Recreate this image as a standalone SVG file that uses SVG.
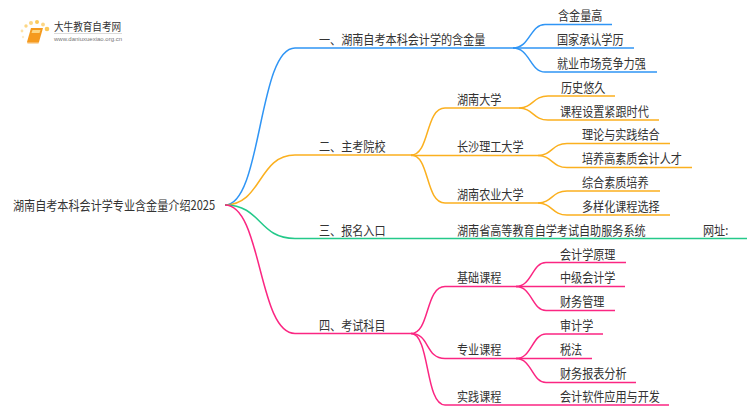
<svg xmlns="http://www.w3.org/2000/svg" width="750" height="410" viewBox="0 0 750 410">
<style>
text{font-family:"Noto Sans CJK SC","Liberation Sans",sans-serif;font-size:11.1px;fill:#333}
.c path{fill:none;stroke-width:1.5}
.b{stroke:#2f95f5}.o{stroke:#fbb01f}.g{stroke:#24c98a}.p{stroke:#fb2682}
</style>
<rect width="750" height="410" fill="#fff"/>
<g id="logo">
<circle cx="47" cy="29" r="2.3" fill="#fbc95a"/><circle cx="43" cy="24.500" r="1.9" fill="#fcd684"/><circle cx="37" cy="22" r="2" fill="#fbc95a"/><circle cx="31" cy="23" r="2" fill="#fcd684"/><circle cx="26" cy="26" r="1.7" fill="#fcd684"/><circle cx="22" cy="31" r="1.4" fill="#fde2a8"/><circle cx="23" cy="37" r="1.2" fill="#feeccb"/>
<path d="M31 28H43L39 42H27Z" fill="#f59a1e"/><path d="M27 42H39L38.500 43.500H27.500Z" fill="#f8b860"/><path d="M32.500 30H40.500L39.500 33H31.500Z" fill="#fcd684"/>
<text transform="translate(54 31) scale(1 1.15)" style="font-size:9.600px">大牛教育自考网</text>
<rect x="54" y="33" width="68" height="0.7" fill="#ccc"/>
<text x="54" y="41" style="font-size:6px;fill:#777;font-family:'Liberation Sans',sans-serif">www.daniuxuexiao.org.cn</text>
</g>
<g class="c" id="connectors">
<path class="b" d="M225 205C262 205 258 48 295 48H513"/>
<path class="b" d="M513 48C530 48 530 24.500 545 24.500H612"/>
<path class="b" d="M513 48H634"/>
<path class="b" d="M513 48C530 48 530 72 545 72H657"/>
<path class="o" d="M225 205C262 205 258 155 295 155H411"/>
<path class="o" d="M411 155C430 155 425 108 445 108H519"/>
<path class="o" d="M411 155.500H538"/>
<path class="o" d="M411 155C430 155 425 203 445 203H538"/>
<path class="o" d="M519 108C533 108 533 96 548 96H615"/>
<path class="o" d="M519 108C533 108 533 120 548 120H659"/>
<path class="o" d="M538 155.500C552 155.500 552 143.500 567 143.500H670"/>
<path class="o" d="M538 155.500C552 155.500 552 167.500 567 167.500H692"/>
<path class="o" d="M538 203C552 203 552 191 567 191H660"/>
<path class="o" d="M538 203C552 203 552 215 567 215H670"/>
<path class="g" d="M225 205C262 205 258 238.500 295 238.500H747"/>
<path class="p" d="M225 205C262 205 258 333.500 295 333.500H411"/>
<path class="p" d="M411 333.500C430 333.500 425 286.500 445 286.500H516"/>
<path class="p" d="M411 333.500C430 333.500 425 358.500 445 358.500H516"/>
<path class="p" d="M411 333.500C430 333.500 425 405 445 405H669"/>
<path class="p" d="M516 286.500C532 286.500 532 262.500 546 262.500H626"/>
<path class="p" d="M516 286.500H625"/>
<path class="p" d="M516 286.500C532 286.500 532 310.500 546 310.500H615"/>
<path class="p" d="M516 358.500C532 358.500 532 334 546 334H603"/>
<path class="p" d="M516 358.500H592"/>
<path class="p" d="M516 358.500C532 358.500 532 382.500 546 382.500H636"/>
</g>
<g id="root"><text transform="translate(13 210) scale(1 1.15)">湖南自考本科会计学专业含金量介绍2025</text></g>
<g id="n1"><text transform="translate(319 44) scale(1 1.15)">一、湖南自考本科会计学的含金量</text></g>
<g id="n1a"><text transform="translate(558 20) scale(1 1.15)">含金量高</text></g>
<g id="n1b"><text transform="translate(557 44) scale(1 1.15)">国家承认学历</text></g>
<g id="n1c"><text transform="translate(557 68) scale(1 1.15)">就业市场竞争力强</text></g>
<g id="n2"><text transform="translate(319 151) scale(1 1.15)">二、主考院校</text></g>
<g id="n2a"><text transform="translate(457 104) scale(1 1.15)">湖南大学</text></g>
<g id="n2a1"><text transform="translate(561 92) scale(1 1.15)">历史悠久</text></g>
<g id="n2a2"><text transform="translate(560 116) scale(1 1.15)">课程设置紧跟时代</text></g>
<g id="n2b"><text transform="translate(457 151) scale(1 1.15)">长沙理工大学</text></g>
<g id="n2b1"><text transform="translate(582 139) scale(1 1.15)">理论与实践结合</text></g>
<g id="n2b2"><text transform="translate(582 163) scale(1 1.15)">培养高素质会计人才</text></g>
<g id="n2c"><text transform="translate(457 199) scale(1 1.15)">湖南农业大学</text></g>
<g id="n2c1"><text transform="translate(582 187) scale(1 1.15)">综合素质培养</text></g>
<g id="n2c2"><text transform="translate(582 211) scale(1 1.15)">多样化课程选择</text></g>
<g id="n3"><text transform="translate(319 235) scale(1 1.15)">三、报名入口</text></g>
<g id="n3a"><text transform="translate(457 235) scale(1 1.15)">湖南省高等教育自学考试自助服务系统</text></g>
<g id="n3b"><text transform="translate(703 235) scale(1 1.15)">网址:</text></g>
<g id="n4"><text transform="translate(319 330) scale(1 1.15)">四、考试科目</text></g>
<g id="n4a"><text transform="translate(457 282) scale(1 1.15)">基础课程</text></g>
<g id="n4a1"><text transform="translate(560 259) scale(1 1.15)">会计学原理</text></g>
<g id="n4a2"><text transform="translate(560 282) scale(1 1.15)">中级会计学</text></g>
<g id="n4a3"><text transform="translate(560 306) scale(1 1.15)">财务管理</text></g>
<g id="n4b"><text transform="translate(457 354) scale(1 1.15)">专业课程</text></g>
<g id="n4b1"><text transform="translate(560 330) scale(1 1.15)">审计学</text></g>
<g id="n4b2"><text transform="translate(560 354) scale(1 1.15)">税法</text></g>
<g id="n4b3"><text transform="translate(560 378) scale(1 1.15)">财务报表分析</text></g>
<g id="n4c"><text transform="translate(457 401) scale(1 1.15)">实践课程</text></g>
<g id="n4c1"><text transform="translate(560 401) scale(1 1.15)">会计软件应用与开发</text></g>
</svg>
